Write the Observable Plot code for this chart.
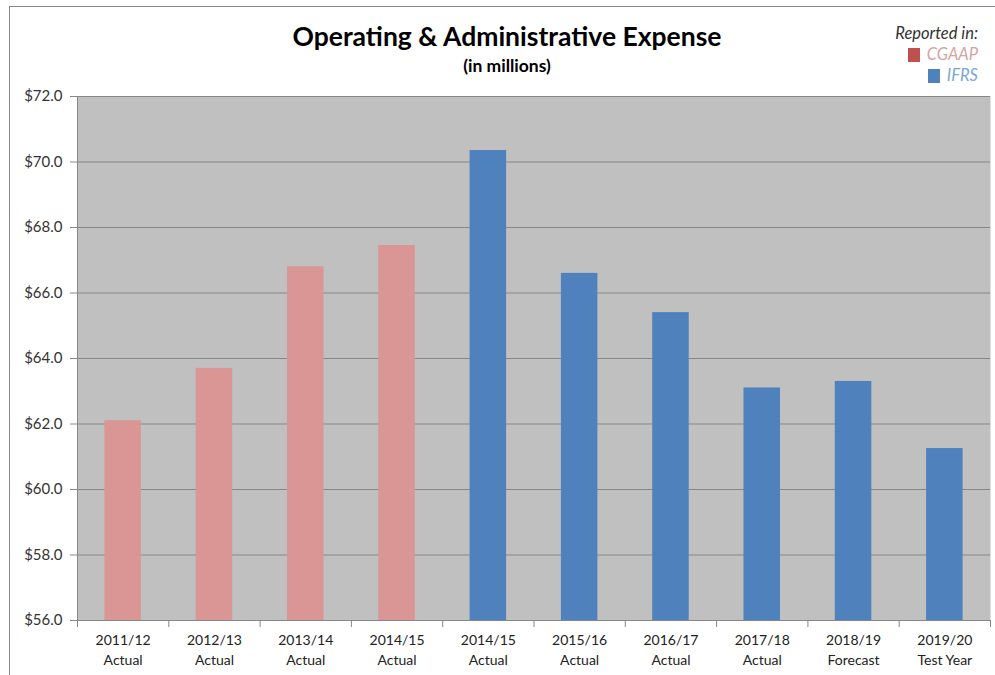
<!DOCTYPE html>
<html>
<head>
<meta charset="utf-8">
<script src="https://cdn.jsdelivr.net/npm/d3@7"></script>
<script src="https://cdn.jsdelivr.net/npm/@observablehq/plot@0.6"></script>
<style>
  html, body { margin: 0; padding: 0; background: #fff; }
  #wrap { position: relative; width: 995px; height: 675px; overflow: hidden; font-family: Lato, "Open Sans", sans-serif; }
  #frameTop { position: absolute; left: 9px; top: 6px; width: 986px; height: 0; border-top: 1px solid #8a8a8a; }
  #frameLeft { position: absolute; left: 9px; top: 6px; width: 0; height: 669px; border-left: 1px solid #8a8a8a; }
  #header { position: absolute; left: 0; top: 0; width: 995px; height: 80px; }
  #title { position: absolute; left: 0; width: 1014px; top: 20px; text-align: center; font-weight: bold; font-size: 26.5px; color: #000; }
  #subtitle { position: absolute; left: 0; width: 1014px; top: 55px; text-align: center; font-weight: bold; font-size: 17.5px; color: #000; }
  #legend { position: absolute; right: 17px; top: 23px; text-align: right; font-style: italic; font-size: 16.5px; line-height: 21px; }
  .sw { display: inline-block; width: 12px; height: 14px; vertical-align: -2px; margin-right: 7px; }
  #chart { position: absolute; left: 0; top: 80px; }
</style>
</head>
<body>
<div id="wrap">
  <div id="header">
    <div id="title">Operating &amp; Administrative Expense</div>
    <div id="subtitle">(in millions)</div>
    <div id="legend"></div>
  </div>
  <div id="chart"></div>
  <div id="frameTop"></div>
  <div id="frameLeft"></div>
</div>
<script>
const years = ["2011/12", "2012/13", "2013/14", "2014/15", "2014/15", "2015/16", "2016/17", "2017/18", "2018/19", "2019/20"];
const statuses = ["Actual", "Actual", "Actual", "Actual", "Actual", "Actual", "Actual", "Actual", "Forecast", "Test Year"];
const basis = ["CGAAP", "CGAAP", "CGAAP", "CGAAP", "IFRS", "IFRS", "IFRS", "IFRS", "IFRS", "IFRS"];
const expense = [62.1, 63.7, 66.8, 67.45, 70.35, 66.6, 65.4, 63.1, 63.3, 61.25];
const yTicks = [56, 58, 60, 62, 64, 66, 68, 70, 72];
const legendItems = ["CGAAP", "IFRS"];
const barColors = {CGAAP: "#d99694", IFRS: "#4f81bd"};
const swatchColors = {CGAAP: "#c0504d", IFRS: "#4f81bd"};
const legendTextColors = {CGAAP: "#d4a3a3", IFRS: "#7aa7d4"};

const data = years.map((y, i) => ({i, year: y, status: statuses[i], basis: basis[i], value: expense[i]}));

// legend
const legend = document.getElementById("legend");
legend.innerHTML = `<div style="color:#333">Reported in:</div>` +
  legendItems.map(k => `<div style="color:${legendTextColors[k]}"><span class="sw" style="background:${swatchColors[k]}"></span>${k}</div>`).join("");

const chart = Plot.plot({
  width: 995,
  height: 595,
  marginTop: 16,
  marginBottom: 55,
  marginLeft: 77,
  marginRight: 5,
  style: {fontFamily: "Lato, 'Open Sans', sans-serif", fontSize: "14px", color: "#333", background: "transparent", overflow: "visible"},
  x: {domain: [0, years.length], axis: null},
  y: {domain: [56, 72], axis: null},
  marks: [
    Plot.frame({fill: "#c0c0c0", stroke: null}),
    Plot.ruleY(yTicks, {stroke: "#878787", strokeWidth: 1}),
    Plot.rectY(data, {
      x1: d => d.i + 0.3,
      x2: d => d.i + 0.7,
      y1: 56,
      y2: "value",
      fill: d => barColors[d.basis]
    }),
    Plot.ruleX([0], {stroke: "#878787"}),
    Plot.axisY({ticks: yTicks, tickFormat: d => "$" + d.toFixed(1), tickSize: 7, tickPadding: 8, stroke: "#878787", fill: "#333", fontSize: 15, label: null}),
    Plot.axisX({ticks: d3.range(years.length + 1), tickFormat: () => "", tickSize: 7, stroke: "#878787", label: null}),
    Plot.text(data, {
      x: d => d.i + 0.5,
      y: 56,
      text: d => d.year + "\n" + d.status,
      dy: 10,
      lineAnchor: "top",
      lineHeight: 1.45,
      fontSize: 14,
      fill: "#222"
    })
  ]
});
document.getElementById("chart").appendChild(chart);
</script>
</body>
</html>
